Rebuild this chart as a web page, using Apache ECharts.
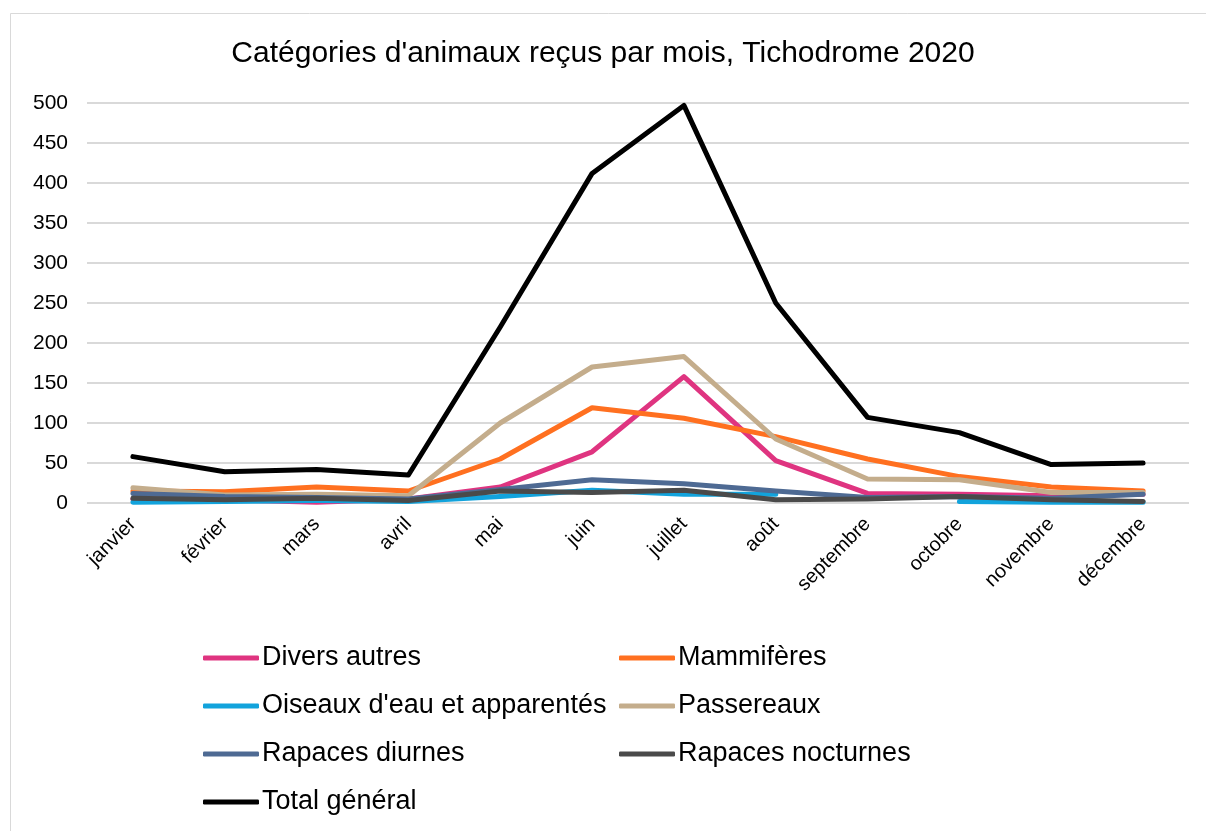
<!DOCTYPE html>
<html><head><meta charset="utf-8">
<script src="https://cdn.jsdelivr.net/npm/echarts@6/dist/echarts.min.js"></script>
<style>html,body{margin:0;padding:0;background:#fff}#c{width:1206px;height:831px}</style>
</head><body><div id="c"></div>
<script>
const months = ['janvier','février','mars','avril','mai','juin','juillet','août','septembre','octobre','novembre','décembre'];
const diversAutres = [5, 4, 1, 5, 20, 64, 158, 53, 12, 11, 9, 11];
const mammiferes = [15, 14, 20, 15, 55, 119, 106, 83, 55, 33, 20, 15];
const oiseauxEau = [1, 2, 3, 2, 8, 16, 11, 11, null, 2, 1, 1];
const passereaux = [19, 10, 11, 9, 100, 170, 183, 80, 30, 29, 13, 13];
const rapacesDiurnes = [12, 8, 7, 5, 17, 29, 24, 15, 7, 8, 6, 11];
const rapacesNocturnes = [6, 4, 6, 3, 15, 13, 16, 4, 5, 8, 4, 2];
const totalGeneral = [58, 39, 42, 35, 220, 412, 497, 250, 107, 88, 48, 50];
const yTicks = [0, 50, 100, 150, 200, 250, 300, 350, 400, 450, 500];

const FONT = '"Liberation Sans", Arial, sans-serif';
const seriesDefs = [
  ['Divers autres', diversAutres, '#DF3480'],
  ['Mammifères', mammiferes, '#FF7020'],
  ['Oiseaux d\'eau et apparentés', oiseauxEau, '#12A3DC'],
  ['Passereaux', passereaux, '#C4AD8C'],
  ['Rapaces diurnes', rapacesDiurnes, '#4E6A93'],
  ['Rapaces nocturnes', rapacesNocturnes, '#4A4A4A'],
  ['Total général', totalGeneral, '#000000']
];
const chart = echarts.init(document.getElementById('c'));
const legendCommon = {
  orient: 'vertical', itemWidth: 56, itemHeight: 5, itemGap: 20, icon: 'roundRect',
  textStyle: {fontFamily: FONT, fontSize: 27, lineHeight: 28, color: '#000', padding: [0,0,0,-2]},
  selectedMode: false
};
chart.setOption({
  animation: false,
  backgroundColor: '#fff',
  graphic: [{type: 'rect', shape: {x: 10.5, y: 13.5, width: 1220, height: 840}, style: {fill: 'none', stroke: '#D9D9D9', lineWidth: 1}, silent: true}],
  title: {text: 'Catégories d\'animaux reçus par mois, Tichodrome 2020', left: 'center', top: 34,
    textStyle: {fontFamily: FONT, fontSize: 30, fontWeight: 'normal', color: '#000'}},
  legend: [
    Object.assign({left: 198, top: 639, data: ['Divers autres', 'Oiseaux d\'eau et apparentés', 'Rapaces diurnes', 'Total général']}, legendCommon),
    Object.assign({left: 614, top: 639, data: ['Mammifères', 'Passereaux', 'Rapaces nocturnes']}, legendCommon)
  ],
  grid: {left: 87, right: 17, top: 103, bottom: 328, containLabel: false},
  xAxis: {type: 'category', data: months, boundaryGap: true,
    axisLine: {show: false}, axisTick: {show: false},
    axisLabel: {rotate: 45, fontFamily: FONT, fontSize: 20, color: '#000', margin: 18, interval: 0}},
  yAxis: {type: 'value', min: yTicks[0], max: yTicks[yTicks.length-1], interval: 50,
    axisLine: {show: false}, axisTick: {show: false},
    axisLabel: {fontFamily: FONT, fontSize: 21, color: '#000', margin: 19},
    splitLine: {lineStyle: {color: '#D9D9D9', width: 2}}},
  series: seriesDefs.map(([name, data, color]) => ({
    name, type: 'line', data, color, showSymbol: false, symbol: 'none', connectNulls: false,
    lineStyle: {width: 5, color, cap: 'round', join: 'round'}
  }))
});
</script></body></html>
